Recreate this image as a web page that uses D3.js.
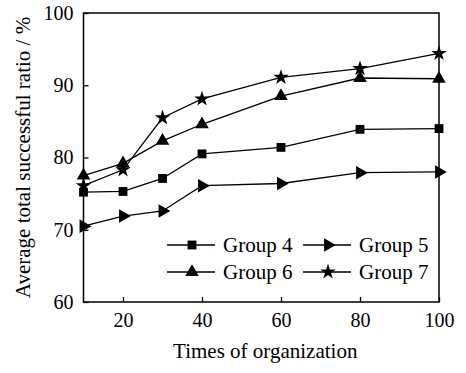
<!DOCTYPE html>
<html>
<head>
<meta charset="utf-8">
<script src="https://cdn.jsdelivr.net/npm/d3@7"></script>
<style>
  html, body { margin: 0; padding: 0; background: #fff; }
  svg { display: block; font-family: "Liberation Serif", "Times New Roman", serif; }
</style>
</head>
<body>
<svg id="chart" width="466" height="373"></svg>
<script>
// Times of organization (x) and average total successful ratio (%) per group
const times = [10, 20, 30, 40, 60, 80, 100];
const group4 = [75.2, 75.3, 77.1, 80.5, 81.4, 83.9, 84.0];
const group5 = [70.5, 71.9, 72.6, 76.1, 76.4, 77.9, 78.0];
const group6 = [77.5, 79.2, 82.3, 84.6, 88.5, 91.0, 90.9];
const group7 = [76.1, 78.3, 85.5, 88.1, 91.1, 92.3, 94.4];
const xTicks = [20, 40, 60, 80, 100];
const yTicks = [60, 70, 80, 90, 100];
const seriesNames = ["Group 4", "Group 5", "Group 6", "Group 7"];

const svg = d3.select("#chart");
const m = { left: 83.5, right: 439, top: 13, bottom: 302 };

const x = d3.scaleLinear().domain([10, 100]).range([m.left, m.right]);
const y = d3.scaleLinear().domain([60, 100]).range([m.bottom, m.top]);

// marker shapes for each group
const shapes = {
  "Group 4": { type: d3.symbolSquare, size: 78, rotate: 0 },
  "Group 5": { type: d3.symbolTriangle, size: 80, rotate: 90 },
  "Group 6": { type: d3.symbolTriangle, size: 80, rotate: 0 },
  "Group 7": { type: d3.symbolStar, size: 75, rotate: 0 }
};

const series = [
  { name: "Group 4", values: group4 },
  { name: "Group 5", values: group5 },
  { name: "Group 6", values: group6 },
  { name: "Group 7", values: group7 }
];

// axes with inward ticks
const xAxis = d3.axisBottom(x).tickValues(xTicks).tickSize(-5).tickPadding(11).tickFormat(d3.format("d"));
const yAxis = d3.axisLeft(y).tickValues(yTicks).tickSize(-5).tickPadding(10).tickFormat(d3.format("d"));

const gx = svg.append("g").attr("transform", `translate(0,${m.bottom})`).call(xAxis);
const gy = svg.append("g").attr("transform", `translate(${m.left},0)`).call(yAxis);
[gx, gy].forEach(g => {
  g.select(".domain").remove();
  g.selectAll("line").attr("stroke", "#000").attr("stroke-width", 1.3);
  g.selectAll("text").attr("fill", "#000").attr("font-size", 20)
    .attr("font-family", '"Liberation Serif", "Times New Roman", serif');
});

// plot frame
svg.append("rect")
  .attr("x", m.left).attr("y", m.top)
  .attr("width", m.right - m.left).attr("height", m.bottom - m.top)
  .attr("fill", "none").attr("stroke", "#000").attr("stroke-width", 1.5);

const line = d3.line().x((d, i) => x(times[i])).y(d => y(d));

const symbolPath = name => d3.symbol().type(shapes[name].type).size(shapes[name].size)();

series.forEach(s => {
  svg.append("path")
    .attr("d", line(s.values))
    .attr("fill", "none").attr("stroke", "#000").attr("stroke-width", 1.3);
  svg.append("g").selectAll("path")
    .data(s.values)
    .join("path")
    .attr("d", symbolPath(s.name))
    .attr("transform", (d, i) => `translate(${x(times[i])},${y(d)}) rotate(${shapes[s.name].rotate})`)
    .attr("fill", "#000");
});

// legend in two columns
const legendPos = [
  { name: "Group 4", x0: 167, row: 245 },
  { name: "Group 5", x0: 303, row: 245 },
  { name: "Group 6", x0: 167, row: 272 },
  { name: "Group 7", x0: 303, row: 272 }
];
const lg = svg.append("g");
legendPos.forEach(p => {
  lg.append("line").attr("x1", p.x0).attr("x2", p.x0 + 48)
    .attr("y1", p.row).attr("y2", p.row)
    .attr("stroke", "#000").attr("stroke-width", 1.3);
  lg.append("path").attr("d", symbolPath(p.name))
    .attr("transform", `translate(${p.x0 + 25},${p.row}) rotate(${shapes[p.name].rotate})`)
    .attr("fill", "#000");
  lg.append("text").attr("x", p.x0 + 56).attr("y", p.row).attr("dy", "0.35em")
    .attr("font-size", 21).attr("fill", "#000").text(p.name);
});

// axis titles
svg.append("text")
  .attr("x", (m.left + m.right) / 2 + 4).attr("y", 358)
  .attr("text-anchor", "middle").attr("font-size", 21).attr("fill", "#000")
  .text("Times of organization");

svg.append("text")
  .attr("transform", `translate(30,${(m.top + m.bottom) / 2}) rotate(-90)`)
  .attr("text-anchor", "middle").attr("font-size", 21).attr("fill", "#000")
  .text("Average total successful ratio / %");
</script>
</body>
</html>
